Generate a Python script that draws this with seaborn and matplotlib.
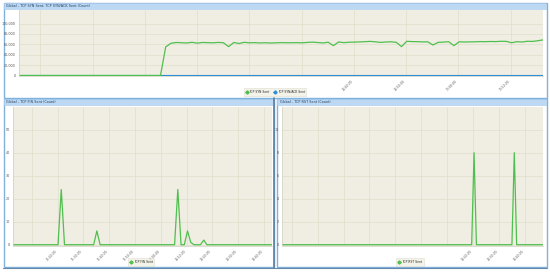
import numpy as np
import pandas as pd
import matplotlib
matplotlib.use("Agg")
import matplotlib.pyplot as plt
from matplotlib.patches import Rectangle
from matplotlib.lines import Line2D
import seaborn as sns

# ---- data ----
syn_sent = [0] * 28 + [
    55000, 62000, 63500, 63000, 62500, 63800, 62200, 63500, 63200, 62800,
    63600, 63000, 55500, 63500, 61500, 63800, 62800, 63200, 62600, 63000,
    62500, 62800, 63200, 63000, 63000, 63200, 62800, 63600, 64200, 63400,
    62600, 64000, 57400, 64500, 63200, 64000, 64200, 64600, 65000, 65600,
    64800, 63600, 64400, 64800, 63800, 55500, 65800, 65200, 65000, 64600,
    64800, 58700, 63800, 64200, 65000, 57400, 64800, 64400, 64600, 64800,
    65200, 65000, 65400, 65200, 65800, 65600, 63000, 65000, 64400, 65800,
    65600, 66800, 68500]
synack_sent = [0] * len(syn_sent)

fin_peaks = {15: 24, 26: 6, 51: 24, 54: 6, 55: 1, 59: 2}
fin_sent = [fin_peaks.get(i, 0) for i in range(81)]

rst_peaks = {81: 8, 98: 8}
rst_sent = [rst_peaks.get(i, 0) for i in range(111)]

top_yticks = [0, 20000, 40000, 60000, 80000, 100000]
top_ylabels = ["0", "20,000", "40,000", "60,000", "80,000", "100,000"]
fin_yticks = [0, 10, 20, 30, 40, 50]
rst_yticks = [0, 2, 4, 6, 8, 10]

top_time_labels = ["12:40:00", "12:50:00", "13:00:00", "13:10:00"]
fin_time_labels = ["11:20:00", "11:30:00", "11:40:00", "11:50:00", "12:00:00",
                   "12:10:00", "12:20:00", "12:30:00", "12:40:00"]
rst_time_labels = ["12:20:00", "12:30:00", "12:40:00"]

titles = ["Global - TCP SYN Sent, TCP SYN/ACK Sent (Count)",
          "Global - TCP FIN Sent (Count)",
          "Global - TCP RST Sent (Count)"]

GREEN = "#4fbf4f"
BLUE = "#2a8fd8"
PLOT_BG = "#f0eee2"
GRID = "#e0dfcc"
BORDER = "#7fb2dd"
HEADER = "#bcd8f3"

sns.set_style("white")
plt.rcParams["font.family"] = ["DejaVu Sans"]

W, H = 550, 273
fig = plt.figure(figsize=(W / 100, H / 100), dpi=100)
fig.patch.set_facecolor("white")

# background layer in pixel coordinates: panels, headers, titles
bg = fig.add_axes([0, 0, 1, 1], zorder=0)
bg.set_xlim(0, W)
bg.set_ylim(H, 0)
bg.axis("off")

panels = [(3.5, 2.5, 543, 95.5), (3.5, 98.5, 270, 168.5), (276.5, 98.5, 270, 168.5)]
for (px, py, pw, ph), title in zip(panels, titles):
    bg.add_patch(Rectangle((px, py), pw, ph, facecolor="white",
                           edgecolor=BORDER, lw=1.0))
    bg.add_patch(Rectangle((px + 0.5, py + 0.5), pw - 1, 5.5,
                           facecolor=HEADER, edgecolor="#a8cbee", lw=0.4))
    bg.text(px + 3, py + 3.4, title, fontsize=2.4, color="#23405e",
            va="center", ha="left")
bg.plot([274, 274], [98, 268], color="#5f7f9f", lw=1.2)
bg.plot([3, 547], [267.5, 267.5], color="#6688aa", lw=0.8)


def px_axes(left, right, top, bottom):
    return fig.add_axes([left / W, (H - bottom) / H, (right - left) / W,
                         (bottom - top) / H], zorder=2)


def style_axes(ax, xmax, grid_x, label_idx, labels, yticks, ylabels, ylim):
    ax.set_facecolor(PLOT_BG)
    ax.set_xlim(0, xmax)
    ax.set_ylim(*ylim)
    ax.set_xticks(grid_x)
    ax.set_xticklabels([labels[label_idx.index(k)] if k in label_idx else ""
                        for k in range(len(grid_x))],
                       rotation=45, ha="right", va="top", fontsize=2.2,
                       color="#555555")
    ax.set_yticks(yticks)
    ax.set_yticklabels(ylabels, fontsize=2.4, color="#555555")
    ax.grid(True, color=GRID, lw=0.5)
    ax.set_axisbelow(True)
    ax.tick_params(length=1.2, width=0.4, pad=1, colors="#999999",
                   labelcolor="#555555")
    for side in ["top", "right"]:
        ax.spines[side].set_visible(False)
    for side in ["left", "bottom"]:
        ax.spines[side].set_color("#cfcfbf")
        ax.spines[side].set_linewidth(0.5)
    ax.set_xlabel("")
    ax.set_ylabel("")


def add_legend(ax, names, colors, x_center, y_px):
    handles = [Line2D([0], [0], color=c, lw=0.6, marker="D", markersize=1.6)
               for c in colors]
    leg = ax.legend(handles, names, loc="center",
                    bbox_to_anchor=(x_center / W, (H - y_px) / H),
                    bbox_transform=fig.transFigure, ncol=len(names),
                    fontsize=2.2, frameon=True, handlelength=1.0,
                    handletextpad=0.4, columnspacing=1.2, borderpad=0.5,
                    fancybox=False)
    leg.get_frame().set_facecolor("#f2f0e4")
    leg.get_frame().set_edgecolor("#d8d6c6")
    leg.get_frame().set_linewidth(0.4)


# ---- top panel ----
ax1 = px_axes(19, 543, 10, 76)
df1 = pd.DataFrame({"t": np.arange(len(syn_sent)), "syn": syn_sent,
                    "synack": synack_sent})
sns.lineplot(data=df1, x="t", y="synack", ax=ax1, color=BLUE, lw=0.8)
sns.lineplot(data=df1, x="t", y="syn", ax=ax1, color=GREEN, lw=0.9)
style_axes(ax1, len(syn_sent) - 1, [4.1 + 9.97 * k for k in range(10)],
           [6, 7, 8, 9], top_time_labels, top_yticks, top_ylabels,
           (-1000, 126000))
add_legend(ax1, ["TCP SYN Sent", "TCP SYN/ACK Sent"], [GREEN, BLUE], 275, 92)

# ---- bottom left panel ----
ax2 = px_axes(12.7, 271.7, 106.7, 245.7)
df2 = pd.DataFrame({"t": np.arange(len(fin_sent)), "fin": fin_sent})
sns.lineplot(data=df2, x="t", y="fin", ax=ax2, color=GREEN, lw=0.9)
style_axes(ax2, len(fin_sent) - 1, [5.9 + 7.97 * k for k in range(10)],
           list(range(1, 10)), fin_time_labels, fin_yticks,
           [str(v) for v in fin_yticks], (-0.43, 60))
add_legend(ax2, ["TCP FIN Sent"], [GREEN], 141, 262)

# ---- bottom right panel ----
ax3 = px_axes(282.3, 542.7, 106.7, 245.7)
df3 = pd.DataFrame({"t": np.arange(len(rst_sent)), "rst": rst_sent})
sns.lineplot(data=df3, x="t", y="rst", ax=ax3, color=GREEN, lw=0.9)
style_axes(ax3, len(rst_sent) - 1, [4.0 + 10.94 * k for k in range(10)],
           [7, 8, 9], rst_time_labels, rst_yticks,
           [str(v) for v in rst_yticks], (-0.087, 12))
add_legend(ax3, ["TCP RST Sent"], [GREEN], 410, 262)

fig.savefig("out.png", dpi=100, facecolor="white")
